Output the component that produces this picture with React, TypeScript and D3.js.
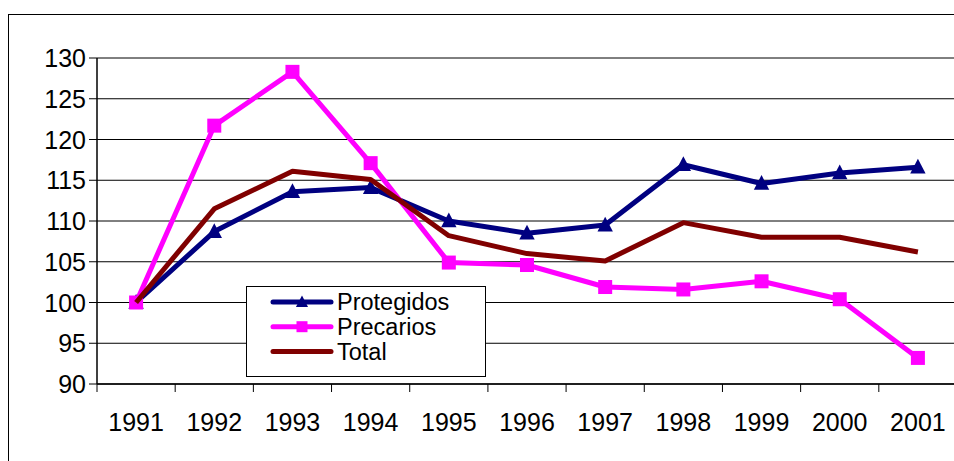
import React from "react";
import * as d3 from "d3";

const years = ["1991","1992","1993","1994","1995","1996","1997","1998","1999","2000","2001"];
const protegidos = [100, 108.7, 113.6, 114.1, 110.0, 108.5, 109.5, 116.9, 114.6, 115.9, 116.6];
const precarios = [100, 121.7, 128.3, 117.1, 104.9, 104.6, 101.9, 101.6, 102.6, 100.4, 93.2];
const total = [100, 111.5, 116.1, 115.1, 108.2, 106.0, 105.1, 109.8, 108.0, 108.0, 106.2];
const yTicks = [90, 95, 100, 105, 110, 115, 120, 125, 130];
const seriesNames = ["Protegidos", "Precarios", "Total"];

const W = 954, H = 461;
const plot = { left: 97, right: 957, top: 58, bottom: 384 };
const FONT = "'Liberation Sans', Arial, sans-serif";
const FS = 25;

export default function App() {
  const x = d3.scaleBand<string>().domain(years).range([plot.left, plot.right]);
  const y = d3.scaleLinear().domain([90, 130]).range([plot.bottom, plot.top]);
  const cx = (i: number) => (x(years[i]) as number) + x.bandwidth() / 2;
  const line = d3.line<number>().x((_, i) => cx(i)).y((d) => y(d));

  const series = [
    { name: seriesNames[0], data: protegidos, color: "#000080", marker: "tri" },
    { name: seriesNames[1], data: precarios, color: "#FF00FF", marker: "sq" },
    { name: seriesNames[2], data: total, color: "#800000", marker: "none" },
  ];

  const marker = (type: string, px: number, py: number, color: string, s: number, key: any) => {
    if (type === "tri") {
      return <path key={key} d={`M${px},${py - s * 0.6}L${px + s * 0.55},${py + s * 0.45}L${px - s * 0.55},${py + s * 0.45}Z`} fill={color} />;
    }
    if (type === "sq") {
      return <rect key={key} x={px - s / 2} y={py - s / 2} width={s} height={s} fill={color} />;
    }
    return null;
  };

  const legend = { x: 246, y: 286, w: 239, h: 90 };

  return (
    <svg width={W} height={H} style={{ position: "absolute", left: 0, top: 0, background: "#fff" }}>
      <rect x={8.5} y={14.5} width={980} height={480} fill="#fff" stroke="#000" strokeWidth={1} />
      {yTicks.map((t) => (
        <g key={t}>
          <line x1={plot.left} x2={plot.right} y1={y(t)} y2={y(t)} stroke="#000" strokeWidth={1} />
          <line x1={plot.left - 8} x2={plot.left} y1={y(t)} y2={y(t)} stroke="#000" strokeWidth={1} />
          <text x={plot.left - 11} y={y(t)} dy="0.36em" textAnchor="end" fontFamily={FONT} fontSize={FS} fill="#000">{t}</text>
        </g>
      ))}
      <line x1={plot.left} x2={plot.left} y1={plot.top} y2={plot.bottom} stroke="#000" strokeWidth={1.5} />
      <line x1={plot.left} x2={plot.right} y1={plot.bottom} y2={plot.bottom} stroke="#000" strokeWidth={1.5} />
      {years.map((yr, i) => (
        <g key={yr}>
          <line x1={x(yr) as number} x2={x(yr) as number} y1={plot.bottom} y2={plot.bottom + 8} stroke="#000" />
          <text x={cx(i)} y={422} dy="0.36em" textAnchor="middle" fontFamily={FONT} fontSize={FS} fill="#000">{yr}</text>
        </g>
      ))}
      {series.map((s) => (
        <g key={s.name}>
          <path d={line(s.data) as string} fill="none" stroke={s.color} strokeWidth={5} strokeLinejoin="round" />
          {s.data.map((v, i) => marker(s.marker, cx(i), y(v), s.color, 14, i))}
        </g>
      ))}
      <rect x={legend.x + 0.5} y={legend.y + 0.5} width={legend.w} height={legend.h} fill="#fff" stroke="#000" strokeWidth={1} />
      {series.map((s, i) => {
        const ly = 302 + i * 24.7;
        return (
          <g key={s.name}>
            <line x1={273} x2={331} y1={ly} y2={ly} stroke={s.color} strokeWidth={5} strokeLinecap="round" />
            {marker(s.marker, 302, ly, s.color, 11, "m")}
            <text x={337} y={ly} dy="0.36em" fontFamily={FONT} fontSize={23.5} fill="#000">{s.name}</text>
          </g>
        );
      })}
    </svg>
  );
}
